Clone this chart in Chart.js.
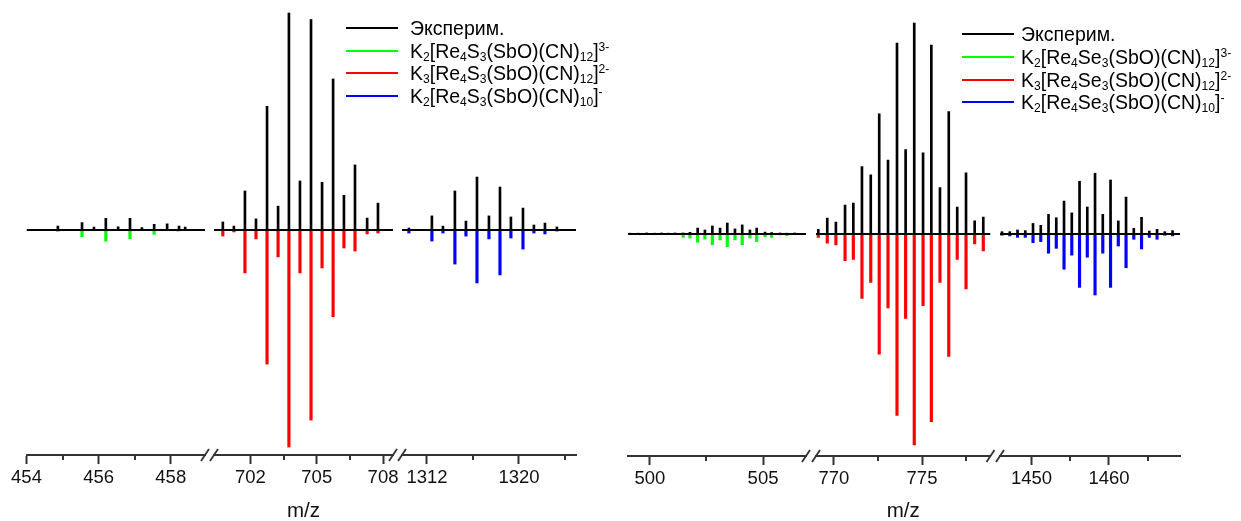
<!DOCTYPE html>
<html><head><meta charset="utf-8">
<script src="https://cdn.jsdelivr.net/npm/chart.js@4.4.1/dist/chart.umd.min.js"></script>
<style>
html,body{margin:0;padding:0;background:#fff;width:1241px;height:521px;overflow:hidden;}
#wrap{position:relative;width:1241px;height:521px;}
canvas{position:absolute;left:0;top:0;}
.sw{position:absolute;height:2px;width:52px;}
.lt{position:absolute;font-family:'Liberation Sans',Arial,sans-serif;font-size:19.5px;line-height:24px;color:#000;white-space:nowrap;}
.lt sub,.lt sup{font-size:62%;line-height:0;position:relative;vertical-align:baseline;}
.lt sub{top:0.22em;}
.lt sup{top:-0.6em;}
</style></head><body><div id="wrap">
<canvas id="c1" width="1241" height="521"></canvas>
<canvas id="c2" width="1241" height="521"></canvas>
<canvas id="c3" width="1241" height="521"></canvas>
<canvas id="c4" width="1241" height="521"></canvas>
<canvas id="c5" width="1241" height="521"></canvas>
<canvas id="c6" width="1241" height="521"></canvas>

<div class="sw" style="left:346px;top:27px;background:#000"></div>
<div class="lt" style="left:410px;top:16px">Эксперим.</div>
<div class="sw" style="left:346px;top:50px;background:#00ff00"></div>
<div class="lt" style="left:410px;top:39px">K<sub>2</sub>[Re<sub>4</sub>S<sub>3</sub>(SbO)(CN)<sub>12</sub>]<sup>3-</sup></div>
<div class="sw" style="left:346px;top:72px;background:#ff0000"></div>
<div class="lt" style="left:410px;top:61px">K<sub>3</sub>[Re<sub>4</sub>S<sub>3</sub>(SbO)(CN)<sub>12</sub>]<sup>2-</sup></div>
<div class="sw" style="left:346px;top:95px;background:#0000ff"></div>
<div class="lt" style="left:410px;top:84px">K<sub>2</sub>[Re<sub>4</sub>S<sub>3</sub>(SbO)(CN)<sub>10</sub>]<sup>-</sup></div>

<div class="sw" style="left:962px;top:33px;background:#000"></div>
<div class="lt" style="left:1021px;top:22px">Эксперим.</div>
<div class="sw" style="left:962px;top:56px;background:#00ff00"></div>
<div class="lt" style="left:1021px;top:45px">K<sub>2</sub>[Re<sub>4</sub>Se<sub>3</sub>(SbO)(CN)<sub>12</sub>]<sup>3-</sup></div>
<div class="sw" style="left:962px;top:79px;background:#ff0000"></div>
<div class="lt" style="left:1021px;top:68px">K<sub>3</sub>[Re<sub>4</sub>Se<sub>3</sub>(SbO)(CN)<sub>12</sub>]<sup>2-</sup></div>
<div class="sw" style="left:962px;top:101px;background:#0000ff"></div>
<div class="lt" style="left:1021px;top:90px">K<sub>2</sub>[Re<sub>4</sub>Se<sub>3</sub>(SbO)(CN)<sub>10</sub>]<sup>-</sup></div>
</div>
<script>
// ===== DATA =====
// Left panel: K[Re4S3(SbO)(CN)n]
const sA1_expMz = [454.87, 455.54, 455.87, 456.20, 456.54, 456.87, 457.20, 457.54, 457.90, 458.23, 458.40];
const sA1_exp   = [1.8, 3.4, 1.4, 5.4, 1.5, 5.4, 1.1, 2.6, 2.9, 1.8, 1.4];
const sA1_simMz = [454.87, 455.54, 456.20, 456.87, 457.54, 458.20];
const sA1_sim   = [0.6, 3.1, 5.1, 4.0, 2.0, 0.5];

const sA2_mz  = [700.75, 701.25, 701.75, 702.25, 702.75, 703.25, 703.74, 704.24, 704.74, 705.24, 705.74, 706.23, 706.73, 707.28, 707.77];
const sA2_exp = [3.7, 1.8, 18, 5.1, 57, 11, 100, 22.6, 97, 22, 69.6, 16, 30, 5.5, 12.4];
const sA2_sim = [2.8, 0.9, 19.8, 4.1, 61.8, 12.4, 100, 19.8, 87.6, 17.5, 40, 8.3, 9.7, 1.8, 1.4];

const sA3_mz  = [1310.43, 1312.43, 1313.39, 1314.43, 1315.39, 1316.35, 1317.39, 1318.35, 1319.30, 1320.35, 1321.30, 1322.26, 1323.30];
const sA3_exp = [0.9, 6.5, 1.8, 18, 4.1, 24.4, 6.5, 19.8, 6, 10.1, 2.3, 3.2, 1.4];
const sA3_sim = [1.4, 5.1, 1.4, 15.7, 2.8, 24.4, 4.1, 20.7, 3.7, 8.8, 1.4, 1.8, 0.5];

// Right panel: K[Re4Se3(SbO)(CN)n]
const sB1_expMz = [499.12, 499.48, 499.85, 500.22, 500.52, 500.81, 501.11, 501.47, 501.77, 502.11, 502.43, 502.76, 503.10, 503.42, 503.76, 504.08, 504.42, 504.72, 505.09, 505.38, 505.75, 506.05, 506.4];
const sB1_exp   = [0.4, 0.4, 0.5, 0.4, 0.5, 0.4, 0.5, 0.5, 0.8, 2.8, 1.9, 3.8, 2.8, 5.2, 2.4, 4.3, 1.9, 2.8, 0.9, 0.7, 0.5, 0.4, 0.5];
const sB1_simMz = [501.47, 501.77, 502.11, 502.43, 502.76, 503.10, 503.42, 503.76, 504.08, 504.42, 504.72, 505.09, 505.38, 505.75, 506.05];
const sB1_sim   = [1.6, 1.9, 3.9, 2.4, 5.1, 2.8, 6.0, 2.8, 5.1, 1.9, 3.6, 1.3, 1.6, 0.5, 0.9];

const sB2_mz  = [769.11, 769.62, 770.11, 770.63, 771.10, 771.59, 772.09, 772.57, 773.07, 773.58, 774.07, 774.56, 775.06, 775.53, 776.02, 776.52, 777.00, 777.50, 777.99, 778.48];
const sB2_exp = [2.2, 7.6, 5.7, 13.7, 14.7, 32, 28, 57, 35, 90.5, 40, 100, 38.5, 89.5, 22, 58, 12.8, 29, 6.3, 8];
const sB2_sim = [1.6, 4.4, 5.2, 12.6, 12, 30.5, 23, 57, 35, 86, 40, 100, 34, 89, 23, 58, 12, 26, 4.7, 8];

const sB3_mz  = [1446.2, 1447.2, 1448.2, 1449.2, 1450.2, 1451.2, 1452.2, 1453.2, 1454.2, 1455.2, 1456.2, 1457.2, 1458.2, 1459.2, 1460.2, 1461.2, 1462.2, 1463.2, 1464.2, 1465.2, 1466.2, 1467.2, 1468.2];
const sB3_exp = [1.1, 1.1, 1.9, 1.6, 5, 4.1, 9.3, 7.7, 15.6, 10, 25, 12.8, 28.8, 9.3, 25.6, 6.2, 17.5, 2.7, 7.9, 1.4, 2.2, 1.1, 1.6];
const sB3_sim = [0.6, 0.9, 1.6, 1.6, 4.1, 3.6, 9.1, 6.8, 16.7, 10, 25.3, 11, 28.9, 9.1, 25.3, 5.7, 16, 2.5, 7.1, 1.6, 2.5, 0.6, 0.9];

// Tick labels
const tA1_major = [454, 456, 458], tA1_minor = [455, 457];
const tA2_major = [702, 705, 708], tA2_minor = [703.5, 706.5];
const tA3_major = [1312, 1320],    tA3_minor = [1316, 1324];
const tB1_major = [500, 505],      tB1_minor = [502.5];
const tB2_major = [770, 775],      tB2_minor = [772.5, 777.5];
const tB3_major = [1450, 1460],    tB3_minor = [1455, 1465];

const xTitle = 'm/z';

// ===== RENDERING =====
const FONT = "'Liberation Sans', Arial, sans-serif";
const AXIS_COLOR = '#333';
const W = 1241, H = 521;
const GREEN = '#00ff00', RED = '#ff0000', BLUE = '#0000ff';

const axisDeco = {
  id: 'axisDeco',
  afterDraw(chart, args, o) {
    const sx = chart.scales.x, ctx = chart.ctx, y0 = chart.chartArea.bottom;
    ctx.save();
    ctx.strokeStyle = AXIS_COLOR;
    ctx.lineWidth = 2;
    (o.minor || []).forEach(v => {
      const p = Math.round(sx.getPixelForValue(v));
      ctx.beginPath(); ctx.moveTo(p, y0); ctx.lineTo(p, y0 + 5); ctx.stroke();
    });
    ctx.lineWidth = 1.8;
    const slash = p => { ctx.beginPath(); ctx.moveTo(p - 4, y0 + 6); ctx.lineTo(p + 4, y0 - 6); ctx.stroke(); };
    if (o.breakLeft) slash(sx.left);
    if (o.breakRight) slash(sx.right);
    ctx.restore();
  }
};

function pts(mz, vals, sign) { return mz.map((m, i) => ({ x: m, y: sign * vals[i] })); }

function makeSeg(id, s) {
  const R = 100 * (s.axisY - s.baseY) / s.pxPer100;
  const top = s.axisY - 2 * (s.axisY - s.baseY);
  new Chart(document.getElementById(id), {
    type: 'bar',
    data: {
      datasets: [
        { type: 'line', data: [{ x: s.xMin, y: 0 }, { x: s.xMax, y: 0 }], borderColor: '#000', borderWidth: 2, pointRadius: 0 },
        { data: pts(s.expMz, s.exp, 1), backgroundColor: '#000', barThickness: 2, grouped: false, borderWidth: 0 },
        { data: pts(s.simMz, s.sim, -1), backgroundColor: s.color, barThickness: 2.5, grouped: false, borderWidth: 0 }
      ]
    },
    options: {
      responsive: false, animation: false, devicePixelRatio: 1,
      layout: { padding: { left: s.left, right: W - s.right, top: top, bottom: 0 } },
      plugins: { legend: { display: false }, tooltip: { enabled: false },
        axisDeco: { minor: s.minor, breakLeft: s.breakLeft, breakRight: s.breakRight } },
      scales: {
        x: {
          type: 'linear', min: s.xMin, max: s.xMax, offset: false,
          afterBuildTicks: sc => { sc.ticks = s.major.map(v => ({ value: v })); },
          afterFit: sc => { sc.height = H - s.axisY; },
          grid: { display: true, offset: false, drawOnChartArea: false, drawTicks: true, tickLength: 9, tickWidth: 2, tickColor: AXIS_COLOR },
          border: { display: true, color: AXIS_COLOR, width: 2 },
          ticks: { autoSkip: false, maxRotation: 0, padding: 3, color: '#111', font: { family: FONT, size: 18.5 }, callback: v => String(v) },
          title: { display: !!s.title, text: xTitle, color: '#111', font: { family: FONT, size: 20.5 }, padding: { top: 0, bottom: -3 } }
        },
        y: { display: false, min: -R, max: R }
      }
    },
    plugins: [axisDeco]
  });
}

// Left panel
const L = { axisY: 455, baseY: 230, pxPer100: 217 };
makeSeg('c1', Object.assign({}, L, { left: 26.5, right: 205, xMin: 454, xMax: 458.95, major: tA1_major, minor: tA1_minor, breakRight: true,
  expMz: sA1_expMz, exp: sA1_exp, simMz: sA1_simMz, sim: sA1_sim, color: GREEN }));
makeSeg('c2', Object.assign({}, L, { left: 214, right: 393, xMin: 700.35, xMax: 708.45, major: tA2_major, minor: tA2_minor, breakLeft: true, breakRight: true, title: true,
  expMz: sA2_mz, exp: sA2_exp, simMz: sA2_mz, sim: sA2_sim, color: RED }));
makeSeg('c3', Object.assign({}, L, { left: 402, right: 576, xMin: 1309.83, xMax: 1324.96, major: tA3_major, minor: tA3_minor, breakLeft: true,
  expMz: sA3_mz, exp: sA3_exp, simMz: sA3_mz, sim: sA3_sim, color: BLUE }));

// Right panel
const Rp = { axisY: 456, baseY: 234, pxPer100: 211 };
makeSeg('c4', Object.assign({}, Rp, { left: 628, right: 806, xMin: 499.03, xMax: 506.9, major: tB1_major, minor: tB1_minor, breakRight: true,
  expMz: sB1_expMz, exp: sB1_exp, simMz: sB1_simMz, sim: sB1_sim, color: GREEN }));
makeSeg('c5', Object.assign({}, Rp, { left: 816, right: 990.5, xMin: 768.98, xMax: 778.89, major: tB2_major, minor: tB2_minor, breakLeft: true, breakRight: true, title: true,
  expMz: sB2_mz, exp: sB2_exp, simMz: sB2_mz, sim: sB2_sim, color: RED }));
makeSeg('c6', Object.assign({}, Rp, { left: 1000, right: 1180, xMin: 1445.94, xMax: 1469.16, major: tB3_major, minor: tB3_minor, breakLeft: true,
  expMz: sB3_mz, exp: sB3_exp, simMz: sB3_mz, sim: sB3_sim, color: BLUE }));
</script>
</body></html>
